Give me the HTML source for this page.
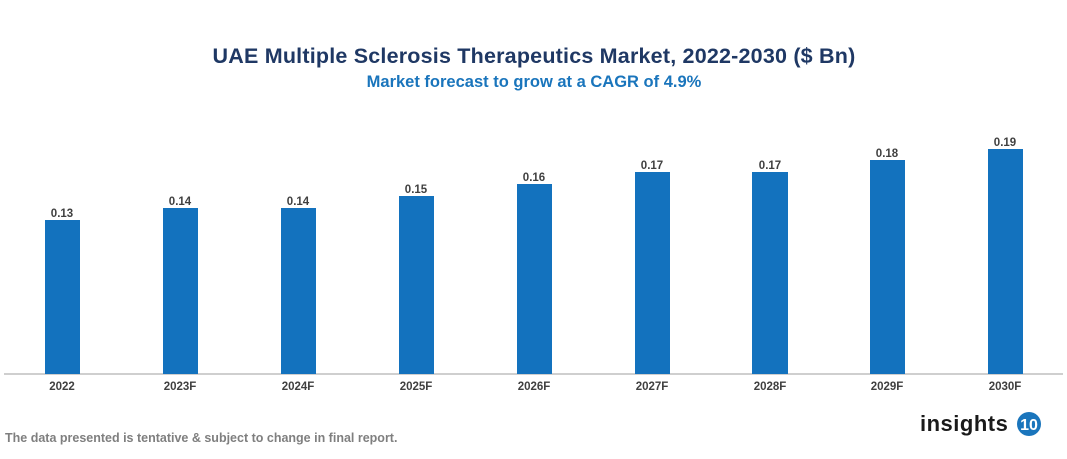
<!DOCTYPE html>
<html><head><meta charset="utf-8"><style>
body{margin:0;background:#fff;width:1067px;height:454px;overflow:hidden;font-family:"Liberation Sans",Arial,sans-serif}
</style></head><body>
<svg width="1067" height="454" xmlns="http://www.w3.org/2000/svg" font-family="Liberation Sans, Arial, sans-serif">
<text x="534" y="63" text-anchor="middle" font-size="21.5" font-weight="bold" fill="#1f3864" letter-spacing="0.2">UAE Multiple Sclerosis Therapeutics Market, 2022-2030 ($ Bn)</text>
<text x="534" y="87" text-anchor="middle" font-size="16.5" font-weight="bold" fill="#1a75bc">Market forecast to grow at a CAGR of 4.9%</text>
<line x1="4" y1="374" x2="1063" y2="374" stroke="#bfbfbf" stroke-width="1.5"/>
<g fill="#1372be">
<rect x="45" y="220" width="35" height="154"/>
<rect x="163" y="208" width="35" height="166"/>
<rect x="281" y="208" width="35" height="166"/>
<rect x="399" y="196" width="35" height="178"/>
<rect x="517" y="184" width="35" height="190"/>
<rect x="635" y="172" width="35" height="202"/>
<rect x="752" y="172" width="36" height="202"/>
<rect x="870" y="160" width="35" height="214"/>
<rect x="988" y="149" width="35" height="225"/>
</g>
<g font-size="11.5" font-weight="bold" fill="#404040" text-anchor="middle">
<text x="62" y="217">0.13</text><text x="180" y="205">0.14</text><text x="298" y="205">0.14</text>
<text x="416" y="193">0.15</text><text x="534" y="181">0.16</text><text x="652" y="169">0.17</text>
<text x="770" y="169">0.17</text><text x="887" y="157">0.18</text><text x="1005" y="146">0.19</text>
</g>
<g font-size="11.5" font-weight="bold" fill="#404040" text-anchor="middle">
<text x="62" y="390">2022</text><text x="180" y="390">2023F</text><text x="298" y="390">2024F</text>
<text x="416" y="390">2025F</text><text x="534" y="390">2026F</text><text x="652" y="390">2027F</text>
<text x="770" y="390">2028F</text><text x="887" y="390">2029F</text><text x="1005" y="390">2030F</text>
</g>
<text x="5" y="442" font-size="12.5" font-weight="bold" fill="#7f7f7f">The data presented is tentative &amp; subject to change in final report.</text>
<text x="920" y="431" font-size="22" font-weight="bold" fill="#1a1a1a" letter-spacing="0.5">insights</text>
<circle cx="1029" cy="424" r="12" fill="#1a75bc"/>
<text x="1029" y="430" text-anchor="middle" font-size="16" font-weight="bold" fill="#fff">10</text>
</svg>
</body></html>
